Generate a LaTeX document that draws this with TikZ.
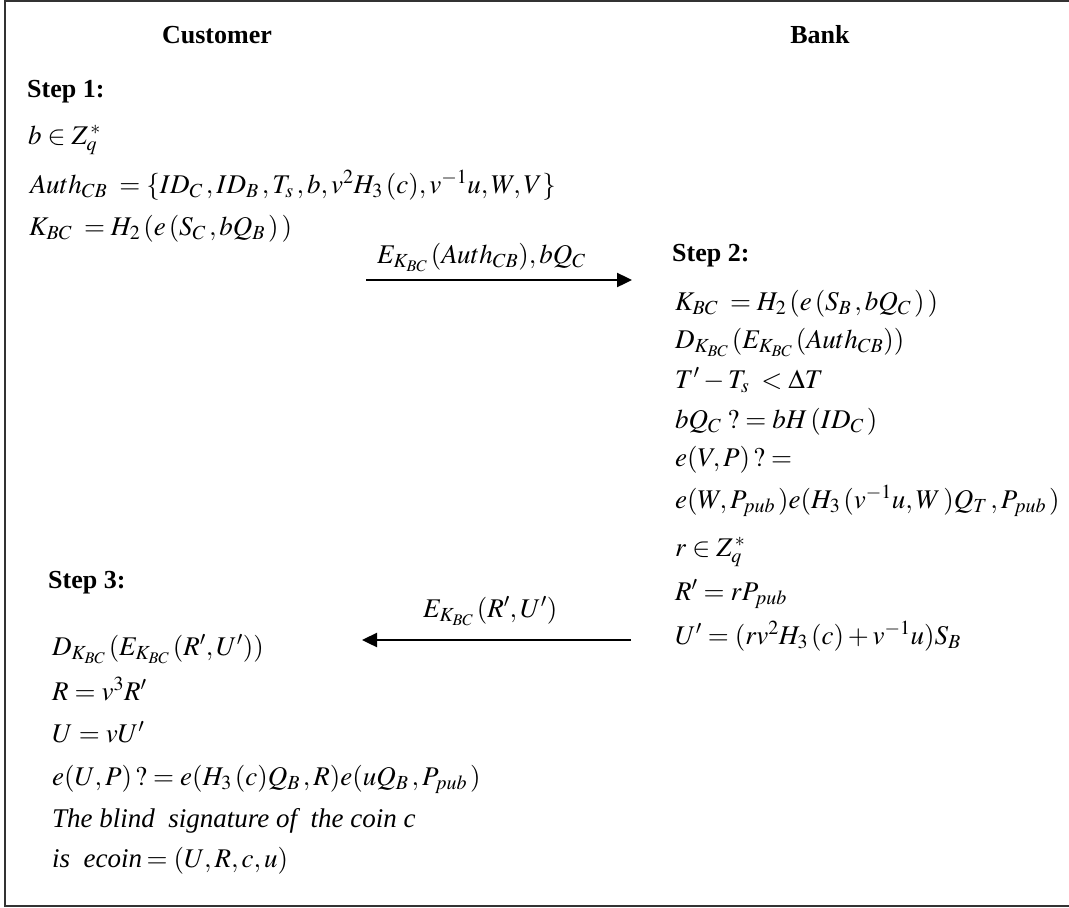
\documentclass[tikz,border=0pt]{standalone}
\usepackage{mathptmx}
\usepackage{fontspec}
\setmainfont{Liberation Serif}
\usetikzlibrary{arrows.meta}
\begin{document}
\begin{tikzpicture}[x=1pt,y=-1pt,
  txt/.style={anchor=base west,inner sep=0pt,font=\fontsize{27}{31}\selectfont},
  head/.style={anchor=base,inner sep=0pt,font=\fontsize{26}{30}\selectfont\bfseries},
  stephead/.style={anchor=base west,inner sep=0pt,font=\fontsize{26}{30}\selectfont\bfseries},
  msg/.style={line width=2.4pt,-{Triangle[length=15pt,width=14pt]}},
  frame/.style={line width=2pt,draw=black!80}]
\useasboundingbox (0,0) rectangle (1069,908);
\draw[frame] (1080,1) -- (5,1) -- (5,906) -- (1080,906);
% headers
\node[head] (cust) at (217,43) {Customer};
\node[head] (bank) at (820,43) {Bank};
% Step 1
\node[stephead] (s1) at (27,97) {Step 1:};
\node[txt] (s1a) at (28,144) {$b\in Z_q^{\,*}$};
\node[txt] (s1b) at (30,193) {$Auth_{CB}\;=\{ID_C\,,ID_B\,,T_s\,,b,v^2H_3\,(c),v^{-1}u,W,V\}$};
\node[txt] (s1c) at (29,235) {$K_{BC}\;=H_2\,(e\,(S_C\,,bQ_B\,)\,)$};
% message 1
\coordinate (m1s) at (366,280);
\coordinate (m1e) at (632,280);
\draw[msg] (m1s) -- (m1e);
\node[txt] (m1l) at (377,263) {$E_{K_{BC}}\,(Auth_{CB}),bQ_C$};
% Step 2
\node[stephead] (s2) at (672,261) {Step 2:};
\node[txt] (s2a) at (675,310) {$K_{BC}\;=H_2\,(e\,(S_B\,,bQ_C\,)\,)$};
\node[txt] (s2b) at (675,348) {$D_{K_{BC}}\,(E_{K_{BC}}\,(Auth_{CB}))$};
\node[txt] (s2c) at (675,388) {$T'-T_s\;<\Delta T$};
\node[txt] (s2d) at (675,428) {$bQ_C\;?=bH\,(ID_C\,)$};
\node[txt] (s2e) at (675,466) {$e(V,P)\,?=$};
\node[txt] (s2f) at (675,508) {$e(W,P_{pub}\,)e(H_3\,(v^{-1}u,W\,)Q_T\,,P_{pub}\,)$};
\node[txt] (s2g) at (675,556) {$r\in Z_q^{\,*}$};
\node[txt] (s2h) at (675,600) {$R'=rP_{pub}$};
\node[txt] (s2i) at (675,644) {$U'=(rv^2H_3\,(c)+v^{-1}u)S_B$};
% message 2
\coordinate (m2s) at (631,640);
\coordinate (m2e) at (362,640);
\draw[msg] (m2s) -- (m2e);
\node[txt] (m2l) at (423,617) {$E_{K_{BC}}\,(R',U')$};
% Step 3
\node[stephead] (s3) at (48,588) {Step 3:};
\node[txt] (s3a) at (52,655) {$D_{K_{BC}}\,(E_{K_{BC}}\,(R',U'))$};
\node[txt] (s3b) at (52,700) {$R=v^3R'$};
\node[txt] (s3c) at (52,742) {$U=vU'$};
\node[txt] (s3d) at (52,785) {$e(U,P)\,?=e(H_3\,(c)Q_B\,,R)e(uQ_B\,,P_{pub}\,)$};
\node[txt] (s3e) at (52,827) {\itshape The blind\ \ signature of\ \ the coin c};
\node[txt] (s3f) at (52,867) {\itshape is\ \ ecoin\,$=(U,R,c,u)$};
\end{tikzpicture}
\end{document}
